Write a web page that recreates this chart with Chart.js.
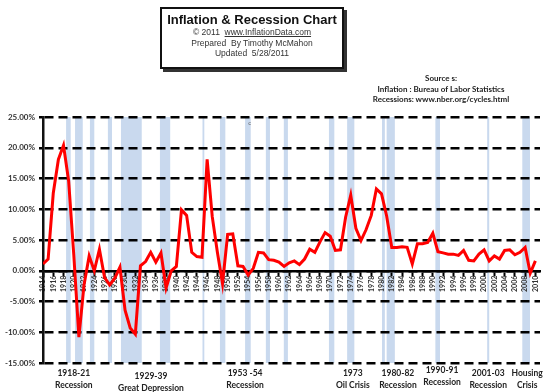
<!DOCTYPE html>
<html>
<head>
<meta charset="utf-8">
<script src="https://cdn.jsdelivr.net/npm/chart.js@4.4.1/dist/chart.umd.min.js"></script>
<style>
  html, body { margin: 0; padding: 0; background: #fff; }
  #wrap { position: relative; width: 550px; height: 392px; }
  #titleBox {
    position: absolute; left: 160px; top: 7px; width: 180px; height: 58px;
    border: 2px solid #111; box-shadow: 3px 3px 0 #333; background: #fff;
    text-align: center; font-family: "Liberation Sans", Arial, sans-serif; color: #333;
  }
  #titleBox .t { font-size: 13px; font-weight: bold; color: #111; margin-top: 3px; line-height: 15px; }
  #titleBox .s { font-size: 8.5px; line-height: 10.5px; }
  #titleBox u { color: #333; }
  #sources {
    position: absolute; left: 360px; top: 73px; width: 162px; text-align: center;
    font-family: Lato, "Open Sans", sans-serif; font-weight: bold; font-size: 8px; line-height: 10.5px; color: #222;
  }
</style>
</head>
<body>
<div id="wrap">
  <canvas id="inflationChart"></canvas>
  <div id="titleBox">
    <div class="t">Inflation &amp; Recession Chart</div>
    <div class="s">© 2011&nbsp; <u>www.InflationData.com</u></div>
    <div class="s">Prepared&nbsp; By Timothy McMahon</div>
    <div class="s">Updated&nbsp; 5/28/2011</div>
  </div>
  <div id="sources">
    Source s:<br>
    Inflation : Bureau of Labor Statistics<br>
    Recessions: www.nber.org/cycles.html
  </div>
</div>

<script>
// years on the x axis
const years = [
  1914, 1915, 1916, 1917, 1918, 1919, 1920, 1921, 1922, 1923,
  1924, 1925, 1926, 1927, 1928, 1929, 1930, 1931, 1932, 1933,
  1934, 1935, 1936, 1937, 1938, 1939, 1940, 1941, 1942, 1943,
  1944, 1945, 1946, 1947, 1948, 1949, 1950, 1951, 1952, 1953,
  1954, 1955, 1956, 1957, 1958, 1959, 1960, 1961, 1962, 1963,
  1964, 1965, 1966, 1967, 1968, 1969, 1970, 1971, 1972, 1973,
  1974, 1975, 1976, 1977, 1978, 1979, 1980, 1981, 1982, 1983,
  1984, 1985, 1986, 1987, 1988, 1989, 1990, 1991, 1992, 1993,
  1994, 1995, 1996, 1997, 1998, 1999, 2000, 2001, 2002, 2003,
  2004, 2005, 2006, 2007, 2008, 2009, 2010
];

// annual inflation rate, %
const inflation = [
  1.1, 1.9, 12.6, 18.1, 20.4, 14.6, 2.6, -10.8, -2.3, 2.4,
  0.0, 3.5, -1.1, -2.3, -1.2, 0.6, -6.4, -9.3, -10.3, 0.8,
  1.5, 3.0, 1.4, 2.9, -2.8, 0.0, 0.7, 9.9, 9.0, 3.0,
  2.3, 2.2, 18.1, 8.8, 3.0, -2.1, 5.9, 6.0, 0.8, 0.7,
  -0.7, 0.4, 3.0, 2.9, 1.8, 1.7, 1.4, 0.7, 1.3, 1.6,
  1.0, 1.9, 3.5, 3.0, 4.7, 6.2, 5.6, 3.3, 3.4, 8.7,
  12.3, 6.9, 4.9, 6.7, 9.0, 13.3, 12.5, 8.9, 3.8, 3.8,
  3.9, 3.8, 1.1, 4.4, 4.4, 4.6, 6.1, 3.1, 2.9, 2.7,
  2.7, 2.5, 3.3, 1.7, 1.6, 2.7, 3.4, 1.6, 2.4, 1.9,
  3.3, 3.4, 2.6, 3.0, 3.8, -0.4, 1.6
];

// recession shading (fractional years)
const recessionStart = [1918.5, 1920.25, 1923.15, 1926.65, 1929.2, 1936.8, 1945.1, 1948.5, 1953.4, 1957.45, 1960.95, 1969.75, 1973.3, 1980.1, 1981.0, 1990.5, 2000.6, 2007.45];
const recessionEnd   = [1919.4, 1921.75, 1924.0, 1927.45, 1933.25, 1938.8, 1945.45, 1949.55, 1954.5, 1958.25, 1961.75, 1970.8, 1974.7, 1980.65, 1982.6, 1991.4, 2001.0, 2008.95];

// labels under the chart
const noteYear  = [1920.0, 1935.05, 1953.4, 1974.4, 1983.2, 1991.8, 2000.8, 2008.4];
const noteLine1 = ['1918-21', '1929-39', '1953 -54', '1973', '1980-82', '1990-91', '2001-03', 'Housing'];
const noteLine2 = ['Recession', 'Great Depression', 'Recession', 'Oil Crisis', 'Recession', 'Recession', 'Recession', 'Crisis'];

const yTicks = [-15, -10, -5, 0, 5, 10, 15, 20, 25];

/* shaded recession bars behind the grid */
const recessionBands = {
  id: 'recessionBands',
  beforeDraw(chart) {
    const { ctx, chartArea, scales: { x } } = chart;
    ctx.save();
    ctx.fillStyle = '#c9d9ee';
    recessionStart.forEach((s, i) => {
      const x1 = x.getPixelForValue(s);
      const x2 = x.getPixelForValue(recessionEnd[i]);
      ctx.fillRect(x1, chartArea.top, x2 - x1, chartArea.bottom - chartArea.top);
    });
    ctx.restore();
  }
};

/* recession names under the plot */
const bottomNotes = {
  id: 'bottomNotes',
  afterDraw(chart) {
    const { ctx, chartArea, scales: { x } } = chart;
    const shift = { '1929-39': 3, '1990-91': -3 };
    ctx.save();
    ctx.fillStyle = '#222';
    ctx.textAlign = 'center';
    ctx.textBaseline = 'middle';
    ctx.font = 'bold 8.5px Lato, "Open Sans", sans-serif';
    noteYear.forEach((yr, i) => {
      const px = x.getPixelForValue(yr);
      const dy = shift[noteLine1[i]] || 0;
      ctx.fillText(noteLine1[i], px, chartArea.bottom + 10 + dy);
      ctx.fillText(noteLine2[i], px, chartArea.bottom + 22 + dy);
    });
    // stray mark on the original
    ctx.fillStyle = '#666';
    ctx.font = '6px Lato, sans-serif';
    ctx.fillText('c', x.getPixelForValue(1954.3), chartArea.top + 6);
    ctx.restore();
  }
};

new Chart(document.getElementById('inflationChart'), {
  type: 'line',
  data: {
    datasets: [{
      label: 'Inflation',
      data: years.map((yr, i) => ({ x: yr, y: inflation[i] })),
      borderColor: '#ff0000',
      borderWidth: 3,
      pointRadius: 0,
      tension: 0,
      fill: false
    }]
  },
  options: {
    responsive: true,
    maintainAspectRatio: false,
    animation: false,
    layout: { padding: { top: 117, right: 10, bottom: 29, left: 0 } },
    plugins: {
      legend: { display: false },
      tooltip: { enabled: false }
    },
    scales: {
      x: {
        type: 'linear',
        position: { y: 0 },
        min: 1914,
        max: 2010.9,
        grid: {
          drawOnChartArea: false,
          drawTicks: true,
          tickLength: 4,
          tickWidth: 2,
          tickColor: '#000'
        },
        border: { display: true, color: '#000', width: 2.5 },
        ticks: {
          stepSize: 2,
          includeBounds: false,
          autoSkip: false,
          minRotation: 90,
          maxRotation: 90,
          padding: 1,
          color: '#333',
          font: { family: 'Lato, "Open Sans", sans-serif', size: 7, weight: 'bold' },
          callback: v => String(v)
        }
      },
      y: {
        min: -15,
        max: 25,
        afterFit: s => { s.width = 43; },
        afterBuildTicks: s => { s.ticks = yTicks.map(v => ({ value: v })); },
        grid: {
          color: '#000',
          lineWidth: 2.5,
          tickLength: 4
        },
        border: { display: true, color: '#111', width: 2.5, dash: [9, 5] },
        ticks: {
          padding: 4,
          color: '#333',
          font: { family: 'Lato, "Open Sans", sans-serif', size: 8, weight: 'bold' },
          callback: v => v.toFixed(2) + '%'
        }
      }
    }
  },
  plugins: [recessionBands, bottomNotes]
});
</script>
</body>
</html>
